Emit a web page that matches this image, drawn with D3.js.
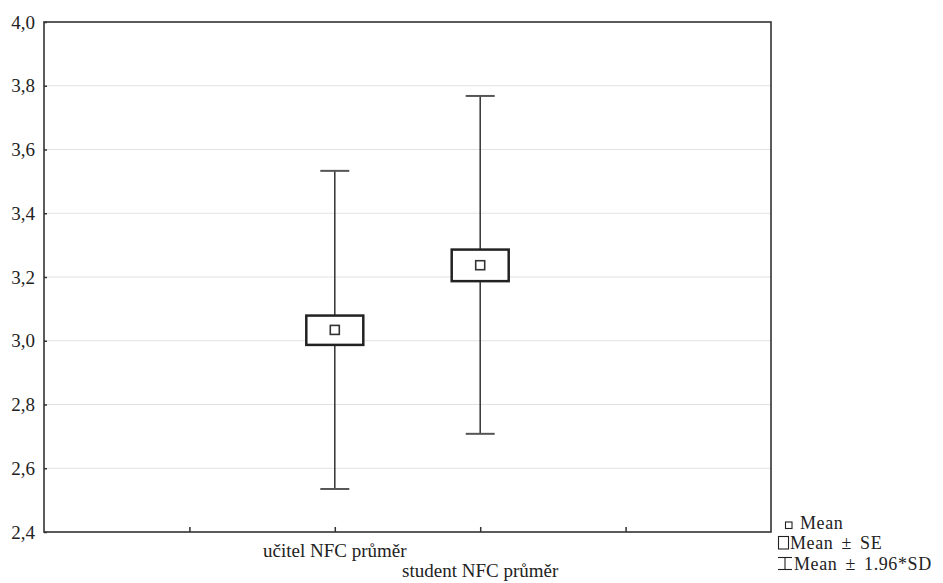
<!DOCTYPE html>
<html>
<head>
<meta charset="utf-8">
<script src="https://cdn.jsdelivr.net/npm/d3@7"></script>
<style>
  html, body { margin: 0; padding: 0; background: #fff; }
</style>
</head>
<body>
<svg id="chart" width="943" height="583"></svg>
<script>
const categories = ["učitel NFC průměr", "student NFC průměr"];
const means  = [3.034, 3.237];
const seLow  = [2.987, 3.187];
const seHigh = [3.079, 3.286];
const sdLow  = [2.535, 2.708];
const sdHigh = [3.533, 3.768];
const yTicks = [2.4, 2.6, 2.8, 3.0, 3.2, 3.4, 3.6, 3.8, 4.0];
const xSlots = [0, 1, 2, 3, 4, 5];
const legendLabels = ["Mean", "Mean ± SE", "Mean ± 1.96*SD"];

const FONT = "'Liberation Serif', 'DejaVu Serif', 'Times New Roman', Times, serif";

const svg = d3.select("#chart");
const L = 44, R = 771, T = 22, B = 532;

const y = d3.scaleLinear().domain([2.4, 4.0]).range([B, T]);
const x = d3.scaleLinear().domain([0, 5]).range([L, R]);
const pos = i => x(i + 2);

// gridlines
svg.append("g").selectAll("line").data(yTicks.slice(1, -1)).join("line")
  .attr("x1", L).attr("x2", R)
  .attr("y1", d => y(d)).attr("y2", d => y(d))
  .attr("stroke", "#e2e2e2").attr("stroke-width", 1.2);

// y axis
const yAxis = d3.axisLeft(y).tickValues(yTicks).tickSize(-3).tickPadding(9)
  .tickFormat(d => d3.format(".1f")(d).replace(".", ","));
const gy = svg.append("g").attr("transform", `translate(${L},0)`).call(yAxis);
gy.attr("font-family", null).attr("font-size", null);
gy.select(".domain").remove();
gy.selectAll(".tick line").attr("stroke", "#333").attr("stroke-width", 1.5);
gy.selectAll(".tick text").style("font-family", FONT).style("font-size", "19px")
  .attr("fill", "#222").attr("dy", "0.32em");

// x axis ticks (inside)
const xAxis = d3.axisBottom(x).tickValues(xSlots.slice(1, -1)).tickSize(-5).tickFormat("");
const gx = svg.append("g").attr("transform", `translate(0,${B})`).call(xAxis);
gx.select(".domain").remove();
gx.selectAll(".tick line").attr("stroke", "#333").attr("stroke-width", 1.5);

// frame
svg.append("rect").attr("x", L).attr("y", T).attr("width", R - L).attr("height", B - T)
  .attr("fill", "none").attr("stroke", "#333").attr("stroke-width", 1.6);

// category labels (staggered)
svg.append("g").selectAll("text").data(categories).join("text")
  .attr("x", (d, i) => pos(i))
  .attr("y", (d, i) => 557 + i * 20)
  .attr("text-anchor", "middle")
  .style("font-family", FONT).style("font-size", "19px").attr("fill", "#222")
  .text(d => d);

const g = svg.append("g");
categories.forEach((c, i) => {
  const cx = pos(i);
  g.append("line").attr("x1", cx).attr("x2", cx)
    .attr("y1", y(sdLow[i])).attr("y2", y(sdHigh[i]))
    .attr("stroke", "#333").attr("stroke-width", 1.5);
  [sdLow[i], sdHigh[i]].forEach(v => {
    g.append("line").attr("x1", cx - 14.5).attr("x2", cx + 14.5)
      .attr("y1", y(v)).attr("y2", y(v))
      .attr("stroke", "#555").attr("stroke-width", 2);
  });
  g.append("rect").attr("x", cx - 28.5).attr("width", 57)
    .attr("y", y(seHigh[i])).attr("height", y(seLow[i]) - y(seHigh[i]))
    .attr("fill", "#fff").attr("stroke", "#222").attr("stroke-width", 2.5);
  g.append("rect").attr("x", cx - 4.5).attr("width", 9)
    .attr("y", y(means[i]) - 4.5).attr("height", 9)
    .attr("fill", "#fff").attr("stroke", "#333").attr("stroke-width", 1.6);
});

// legend
const lg = svg.append("g");
lg.append("rect").attr("x", 785.5).attr("y", 522).attr("width", 6.5).attr("height", 6.5)
  .attr("fill", "#fff").attr("stroke", "#222").attr("stroke-width", 1.1);
lg.append("rect").attr("x", 778.5).attr("y", 536.5).attr("width", 10).attr("height", 12.5)
  .attr("fill", "#fff").attr("stroke", "#222").attr("stroke-width", 1.1);
lg.append("line").attr("x1", 785).attr("x2", 785).attr("y1", 557).attr("y2", 570)
  .attr("stroke", "#222").attr("stroke-width", 1.1);
lg.append("line").attr("x1", 778).attr("x2", 792).attr("y1", 557.5).attr("y2", 557.5)
  .attr("stroke", "#222").attr("stroke-width", 1.1);
lg.append("line").attr("x1", 778).attr("x2", 792).attr("y1", 569.5).attr("y2", 569.5)
  .attr("stroke", "#222").attr("stroke-width", 1.1);

const legendX = [800, 790, 794];
lg.selectAll("text").data(legendLabels).join("text")
  .attr("x", (d, i) => legendX[i])
  .attr("y", (d, i) => 528.5 + i * 20.8)
  .style("word-spacing", "3px")
  .style("letter-spacing", "0.6px")
  .style("font-family", FONT).style("font-size", "18px").attr("fill", "#222")
  .text(d => d);
</script>
</body>
</html>
